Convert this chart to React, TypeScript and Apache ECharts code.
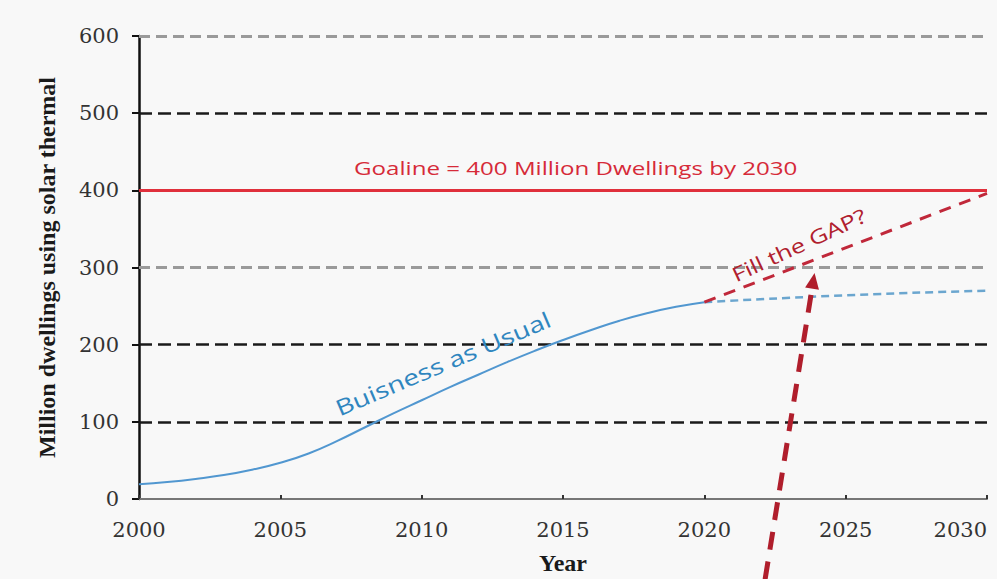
import React, { useEffect, useRef } from "react";
import * as echarts from "echarts";

const bauYears = [2000, 2001, 2002, 2003, 2004, 2005, 2006, 2007, 2008, 2009, 2010, 2011, 2012, 2013, 2014, 2015, 2016, 2017, 2018, 2019, 2020];
const bauValues = [19, 22, 26, 31, 38, 47, 59, 75, 93, 111, 128, 145, 161, 177, 192, 206, 219, 231, 241, 249, 255];
const projYears = [2020, 2025, 2030];
const projValues = [255, 264, 270];
const gapYears = [2020, 2030];
const gapValues = [255, 396];
const goalValue = 400;
const blackGrid = [100, 200, 500];
const grayGrid = [300, 600];
const yTicks = ["0", "100", "200", "300", "400", "500", "600"];
const arrowFrom = [2022.15, -104];
const arrowTo = [2023.9, 293];
const goalLabelAt = [2015.45, 429];
const bauLabelAt = [2010.75, 176];
const gapLabelAt = [2023.35, 329];

export default function App() {
  const ref = useRef<HTMLDivElement>(null);
  useEffect(() => {
    const chart = echarts.init(ref.current!, null, { renderer: "svg" });
    const serif = "'DejaVu Serif', 'Liberation Serif', serif";
    const boldSerif = "'Liberation Serif', 'DejaVu Serif', serif";
    const sans = "'Open Sans', 'Liberation Sans', sans-serif";
    const gridMarks: any[] = [];
    blackGrid.forEach((v) =>
      gridMarks.push({ yAxis: v, lineStyle: { color: "#1a1a1a", width: 2.5, type: [13, 6] } })
    );
    grayGrid.forEach((v) =>
      gridMarks.push({ yAxis: v, lineStyle: { color: "#9a9a9a", width: 3, type: [11, 6] } })
    );
    chart.setOption({
      animation: false,
      backgroundColor: "#f8f8f8",
      grid: { left: 139, right: 10, top: 36, bottom: 80, containLabel: false, outerBoundsMode: "none" },
      xAxis: {
        type: "value",
        min: 2000,
        max: 2030,
        interval: 5,
        name: "Year",
        nameLocation: "middle",
        nameGap: 52,
        nameTextStyle: { fontFamily: boldSerif, fontWeight: "bold", fontSize: 24, color: "#1a1a1a" },
        axisLine: { lineStyle: { color: "#777", width: 2 } },
        axisTick: { show: true, inside: true, length: 4, lineStyle: { color: "#333", width: 2 } },
        splitLine: { show: false },
        axisLabel: {
          fontFamily: serif,
          fontSize: 21,
          color: "#333",
          margin: 20,
          hideOverlap: false,
          alignMaxLabel: "right",
          formatter: (v: number) => String(v),
        },
      },
      yAxis: {
        type: "value",
        min: 0,
        max: 600,
        interval: 100,
        name: "Million dwellings using solar thermal",
        nameLocation: "middle",
        nameRotate: 90,
        nameGap: 80,
        nameTextStyle: { fontFamily: boldSerif, fontWeight: "bold", fontSize: 24, color: "#1a1a1a" },
        axisLine: { show: true, lineStyle: { color: "#111", width: 2.5 } },
        axisTick: { show: true, length: 7, lineStyle: { color: "#111", width: 2 } },
        splitLine: { show: false },
        axisLabel: {
          fontFamily: serif,
          fontSize: 21,
          color: "#333",
          margin: 20,
          formatter: (v: number) => yTicks[Math.round(v / 100)],
        },
      },
      series: [
        {
          type: "line",
          data: [],
          markLine: { silent: true, symbol: "none", label: { show: false }, data: gridMarks },
        },
        {
          type: "line",
          data: [],
          markLine: {
            silent: true,
            symbol: "none",
            label: { show: false },
            data: [{ yAxis: goalValue, lineStyle: { color: "#e0303c", width: 3, type: "solid" } }],
          },
        },
        {
          type: "line",
          data: bauYears.map((y, i) => [y, bauValues[i]]),
          smooth: true,
          showSymbol: false,
          lineStyle: { color: "#5197d0", width: 2 },
          z: 5,
        },
        {
          type: "line",
          data: projYears.map((y, i) => [y, projValues[i]]),
          smooth: true,
          showSymbol: false,
          lineStyle: { color: "#6ba6cf", width: 2.5, type: [8, 5] },
          z: 5,
        },
        {
          type: "line",
          data: gapYears.map((y, i) => [y, gapValues[i]]),
          showSymbol: false,
          lineStyle: { color: "#c0283a", width: 3, type: [12, 9] },
          z: 6,
        },
      ],
    });

    const p0 = chart.convertToPixel({ gridIndex: 0 }, arrowFrom) as number[];
    const p1 = chart.convertToPixel({ gridIndex: 0 }, arrowTo) as number[];
    const dx = p1[0] - p0[0];
    const dy = p1[1] - p0[1];
    const len = Math.sqrt(dx * dx + dy * dy);
    const ux = dx / len;
    const uy = dy / len;
    const headLen = 16;
    const headW = 7;
    const base = [p1[0] - ux * headLen, p1[1] - uy * headLen];
    const px = -uy;
    const py = ux;
    const ol = chart.convertToPixel({ gridIndex: 0 }, goalLabelAt) as number[];
    const bl = chart.convertToPixel({ gridIndex: 0 }, bauLabelAt) as number[];
    const gl = chart.convertToPixel({ gridIndex: 0 }, gapLabelAt) as number[];

    chart.setOption({
      graphic: [
        {
          type: "line",
          shape: { x1: p0[0], y1: p0[1], x2: base[0], y2: base[1] },
          style: { stroke: "#b01e2c", lineWidth: 5, lineDash: [18, 12] },
          z: 100,
        },
        {
          type: "polygon",
          shape: {
            points: [
              [p1[0], p1[1]],
              [base[0] + px * headW, base[1] + py * headW],
              [base[0] - px * headW, base[1] - py * headW],
            ],
          },
          style: { fill: "#b01e2c" },
          z: 100,
        },
        {
          type: "text",
          x: ol[0],
          y: ol[1],
          scaleX: 1.27,
          style: {
            text: "Goaline = 400 Million Dwellings by 2030",
            fill: "#d62a38",
            font: "19px " + sans,
            align: "center",
            verticalAlign: "middle",
          },
          z: 100,
        },
        {
          type: "text",
          x: bl[0],
          y: bl[1],
          rotation: (23 * Math.PI) / 180,
          scaleX: 1.27,
          style: {
            text: "Buisness as Usual",
            fill: "#2f86bf",
            font: "22px " + sans,
            align: "center",
            verticalAlign: "middle",
          },
          z: 100,
        },
        {
          type: "text",
          x: gl[0],
          y: gl[1],
          rotation: (25 * Math.PI) / 180,
          scaleX: 1.27,
          style: {
            text: "Fill the GAP?",
            fill: "#b0202e",
            font: "20px " + sans,
            align: "center",
            verticalAlign: "middle",
          },
          z: 100,
        },
      ],
    });
    return () => chart.dispose();
  }, []);
  return (
    <div
      ref={ref}
      style={{ position: "absolute", left: 0, top: 0, width: 997, height: 579 }}
    />
  );
}
